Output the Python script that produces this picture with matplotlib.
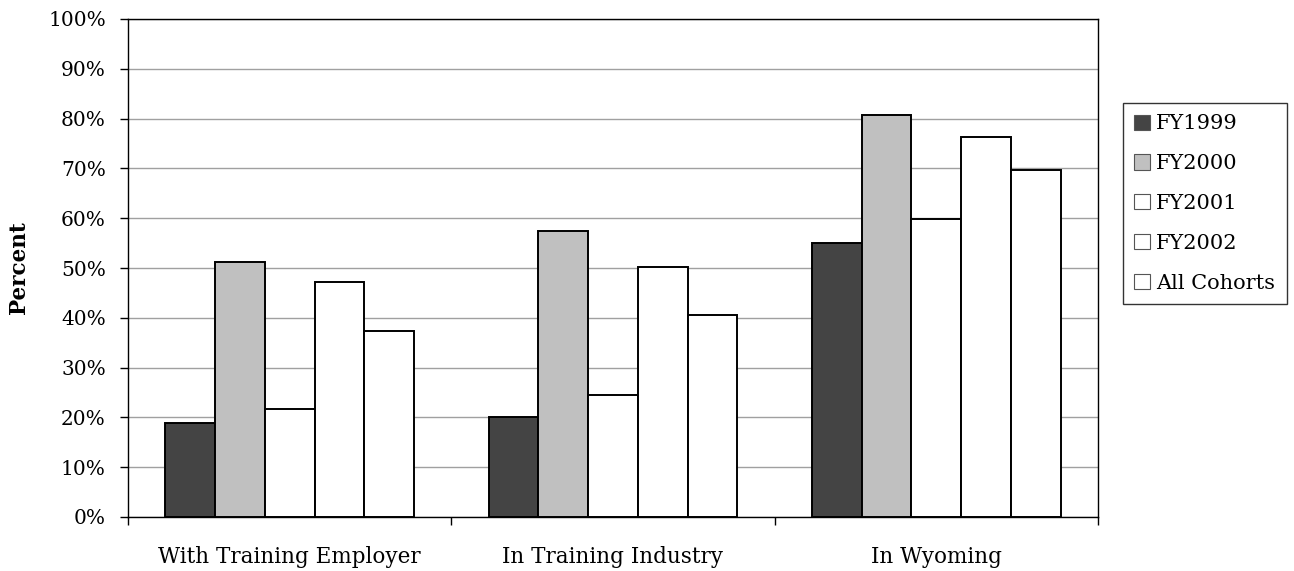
import numpy as np
import matplotlib.pyplot as plt
from matplotlib.patches import Patch

# share of participants still employed, by cohort
categories = ["With Training Employer", "In Training Industry", "In Wyoming"]
cohorts = ["FY1999", "FY2000", "FY2001", "FY2002", "All Cohorts"]
fy1999 = [18.9, 20.1, 55.1]
fy2000 = [51.3, 57.5, 80.8]
fy2001 = [21.7, 24.5, 59.9]
fy2002 = [47.1, 50.2, 76.4]
all_cohorts = [37.4, 40.6, 69.6]
colors = ["#444444", "#c0c0c0", "#ffffff", "#ffffff", "#ffffff"]

plt.rcParams['font.family'] = ['DejaVu Serif']

fig = plt.figure(figsize=(12.94, 5.71), dpi=100)
ax = fig.add_axes([128/1294, 1 - 517/571, (1098 - 128)/1294, (517 - 19)/571])

series = [fy1999, fy2000, fy2001, fy2002, all_cohorts]
x = np.arange(len(categories))
w = 1.0 / 6.5
for i, vals in enumerate(series):
    ax.bar(x + (i - 2) * w, vals, width=w, color=colors[i],
           edgecolor="black", linewidth=1.4, zorder=3)

ax.set_xlim(-0.5, len(categories) - 0.5)
ax.set_ylim(0, 100)
ax.set_yticks(np.arange(0, 101, 10))
ax.set_yticklabels([f"{v}%" for v in range(0, 101, 10)], fontsize=14.5)
ax.yaxis.grid(True, color="#a0a0a0", linewidth=1.0, zorder=0)
ax.tick_params(axis="y", direction="out", length=6, width=1, pad=10)

# category boundaries as ticks, labels centred below each group
ax.set_xticks(np.arange(-0.5, len(categories), 1.0))
ax.set_xticklabels([])
ax.set_xticks(x, minor=True)
ax.set_xticklabels(categories, minor=True, fontsize=15.5)
ax.tick_params(axis="x", which="major", direction="out", length=6, width=1)
ax.tick_params(axis="x", which="minor", length=0, pad=21)

for s in ax.spines.values():
    s.set_linewidth(1.0)
    s.set_color("black")

ax.set_ylabel("Percent", fontsize=15.5, fontweight="bold")
ax.yaxis.set_label_coords(-98/970, 0.5)

handles = [Patch(facecolor=c, edgecolor="#555555", linewidth=0.8) for c in colors]
leg = fig.legend(handles, cohorts, loc="upper left",
                 bbox_to_anchor=(1123/1294, 1 - 103/571),
                 fontsize=15, frameon=True, fancybox=False,
                 edgecolor="black", handlelength=0.75, handleheight=0.75,
                 handletextpad=0.3, labelspacing=1.0, borderpad=0.55,
                 borderaxespad=0)
leg.get_frame().set_linewidth(1.0)

fig.savefig("out.png", dpi=100)
